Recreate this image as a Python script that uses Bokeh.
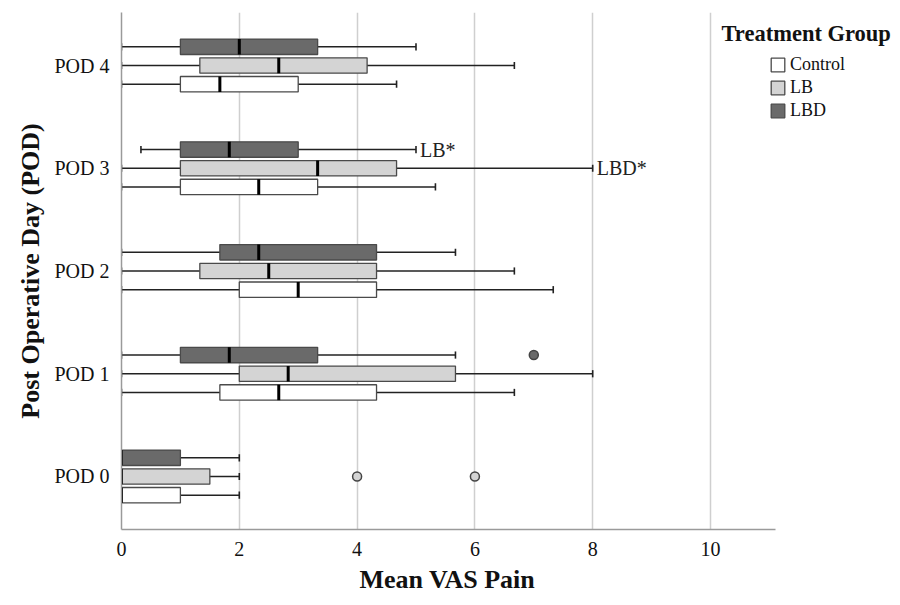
from bokeh.plotting import figure
from bokeh.models import (FactorRange, Range1d, FixedTicker, Legend, LegendItem,
                          Label, Title, ColumnDataSource)
from bokeh.transform import dodge
from bokeh.core.properties import value
from bokeh.embed import file_html
from bokeh.resources import INLINE

# ---------------- data ----------------
pods = ["POD 0", "POD 1", "POD 2", "POD 3", "POD 4"]
groups = ["Control", "LB", "LBD"]

control_min = [0.0, 0.0, 0.0, 0.0, 0.0]
control_q1 = [0.0, 1.67, 2.0, 1.0, 1.0]
control_med = [0.0, 2.67, 3.0, 2.33, 1.67]
control_q3 = [1.0, 4.33, 4.33, 3.33, 3.0]
control_max = [2.0, 6.67, 7.33, 5.33, 4.67]

lb_min = [0.0, 0.0, 0.0, 0.0, 0.0]
lb_q1 = [0.0, 2.0, 1.33, 1.0, 1.33]
lb_med = [0.0, 2.83, 2.5, 3.33, 2.67]
lb_q3 = [1.5, 5.67, 4.33, 4.67, 4.17]
lb_max = [2.0, 8.0, 6.67, 8.0, 6.67]

lbd_min = [0.0, 0.0, 0.0, 0.33, 0.0]
lbd_q1 = [0.0, 1.0, 1.67, 1.0, 1.0]
lbd_med = [0.0, 1.83, 2.33, 1.83, 2.0]
lbd_q3 = [1.0, 3.33, 4.33, 3.0, 3.33]
lbd_max = [2.0, 5.67, 5.67, 5.0, 5.0]

outlier_pod = ["POD 0", "POD 0", "POD 1"]
outlier_group = ["LB", "LB", "LBD"]
outlier_value = [4.0, 6.0, 7.0]

note_pod = ["POD 3", "POD 3"]
note_group = ["LBD", "LB"]
note_value = [5.0, 8.0]
note_text = ["LB*", "LBD*"]

x_ticks = [0, 2, 4, 6, 8, 10]
x_axis_end = 11.1

# ---------------- styles ----------------
stats = {
    "Control": (control_min, control_q1, control_med, control_q3, control_max),
    "LB": (lb_min, lb_q1, lb_med, lb_q3, lb_max),
    "LBD": (lbd_min, lbd_q1, lbd_med, lbd_q3, lbd_max),
}
offsets = {"Control": -0.182, "LB": 0.0, "LBD": 0.182}
fills = {"Control": "#ffffff", "LB": "#d4d4d4", "LBD": "#6a6a6a"}
BOX_H = 0.15
CAP_H = 0.07
SERIF = "Liberation Serif"

p = figure(width=892, height=597,
           x_range=Range1d(0, 13.09),
           y_range=FactorRange(*pods, range_padding=0.0064),
           output_backend="svg", toolbar_location=None,
           min_border_left=121, min_border_right=0,
           min_border_top=12, min_border_bottom=68)
p.outline_line_color = None
p.background_fill_color = "white"
p.border_fill_color = "white"

# grid
p.xgrid.ticker = FixedTicker(ticks=x_ticks)
p.xgrid.grid_line_color = "#cfcfcf"
p.xgrid.grid_line_width = 1.5
p.ygrid.grid_line_color = None

# axes
p.xaxis.ticker = FixedTicker(ticks=x_ticks)
p.xaxis.bounds = (0, x_axis_end)
for ax in (p.xaxis[0], p.yaxis[0]):
    ax.axis_line_color = "#9a9a9a"
    ax.axis_line_width = 1.5
    ax.major_tick_line_color = None
    ax.minor_tick_line_color = None
    ax.major_label_text_font = SERIF
    ax.major_label_text_font_size = "20px"
    ax.major_label_text_color = "#111111"
    ax.axis_label_text_font = SERIF
    ax.axis_label_text_font_size = "26px"
    ax.axis_label_text_font_style = "bold"
    ax.axis_label_text_color = "#111111"

p.xaxis.major_label_standoff = 6
p.yaxis.axis_label = "Post Operative Day (POD)"
p.yaxis.major_label_standoff = 6
p.yaxis.axis_label_standoff = 6

# x-axis title, centred under the drawn axis (0 .. x_axis_end)
p.add_layout(Title(text="Mean VAS Pain", align="left", offset=238, standoff=8,
                   text_font=SERIF, text_font_size="26px",
                   text_font_style="bold", text_color="#111111"), "below")

box_renderers = {}
for g in groups:
    lo, q1, med, q3, hi = stats[g]
    off = offsets[g]
    src = ColumnDataSource(dict(pod=pods, lo=lo, q1=q1, med=med, q3=q3, hi=hi))
    yc = dodge("pod", off, range=p.y_range)
    yc0 = dodge("pod", off - CAP_H / 2, range=p.y_range)
    yc1 = dodge("pod", off + CAP_H / 2, range=p.y_range)
    # whisker
    p.segment(x0="lo", x1="hi", y0=yc, y1=yc, source=src,
              line_color="#222222", line_width=1.6)
    # caps
    p.segment(x0="lo", x1="lo", y0=yc0, y1=yc1, source=src,
              line_color="#222222", line_width=1.6)
    p.segment(x0="hi", x1="hi", y0=yc0, y1=yc1, source=src,
              line_color="#222222", line_width=1.6)
    # box
    r = p.hbar(y=yc, left="q1", right="q3", height=BOX_H, source=src,
               fill_color=fills[g], line_color="#4a4a4a", line_width=1.3)
    box_renderers[g] = r
    # median
    p.segment(x0="med", x1="med",
              y0=dodge("pod", off - BOX_H / 2, range=p.y_range),
              y1=dodge("pod", off + BOX_H / 2, range=p.y_range),
              source=src, line_color="#000000", line_width=3)
    # outliers
    ox = [v for v, gg in zip(outlier_value, outlier_group) if gg == g]
    op = [pp for pp, gg in zip(outlier_pod, outlier_group) if gg == g]
    if ox:
        osrc = ColumnDataSource(dict(pod=op, x=ox))
        p.scatter(x="x", y=yc, source=osrc, size=9, marker="circle",
                  fill_color=fills[g], line_color="#444444", line_width=1.5)
    # notes
    nx = [v for v, gg in zip(note_value, note_group) if gg == g]
    npod = [pp for pp, gg in zip(note_pod, note_group) if gg == g]
    nt = [t for t, gg in zip(note_text, note_group) if gg == g]
    if nx:
        nsrc = ColumnDataSource(dict(pod=npod, x=nx, t=nt))
        p.text(x="x", y=yc, text="t", source=nsrc, x_offset=4,
               text_baseline="middle", text_align="left",
               text_font=value(SERIF), text_font_size="20px",
               text_color="#222222")

legend = Legend(items=[LegendItem(label=g, renderers=[box_renderers[g]]) for g in groups],
                location=(648, 408), orientation="vertical",
                padding=0, margin=0, spacing=2,
                glyph_width=17, glyph_height=17, label_standoff=4,
                label_text_font=SERIF, label_text_font_size="18px",
                label_text_color="#111111",
                border_line_color=None, background_fill_alpha=0)
p.add_layout(legend, "center")

p.add_layout(Label(x=600, y=496, x_units="screen", y_units="screen",
                   text="Treatment Group", text_baseline="middle",
                   text_font=SERIF, text_font_size="22.5px",
                   text_font_style="bold", text_color="#111111"))

open("out.html", "w").write(file_html(p, INLINE))
